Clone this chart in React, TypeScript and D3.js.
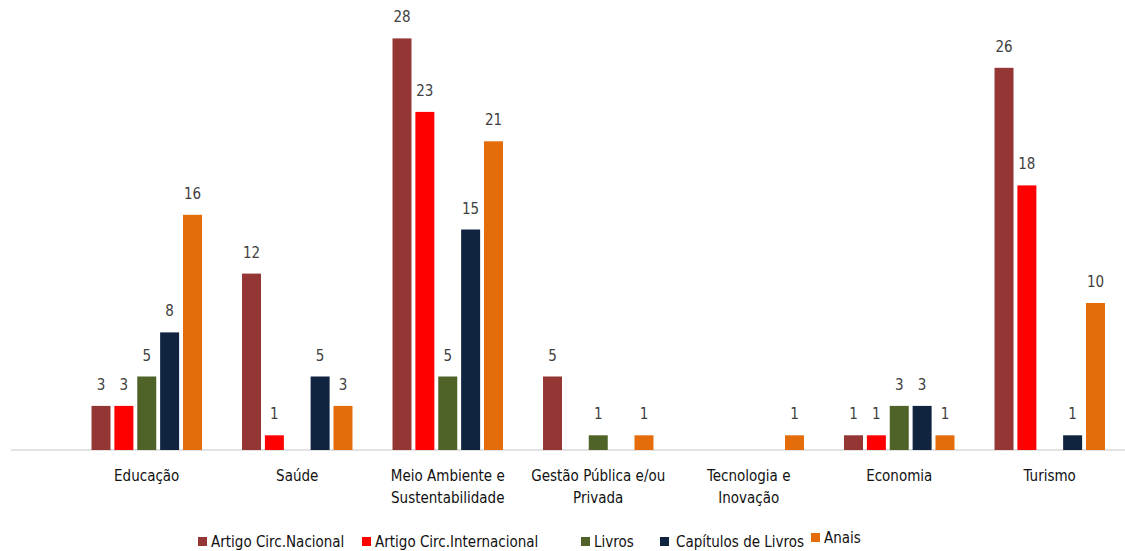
import React from "react";
import * as d3 from "d3";

const categories: string[][] = [
  ["Educação"],
  ["Saúde"],
  ["Meio Ambiente e", "Sustentabilidade"],
  ["Gestão Pública e/ou", "Privada"],
  ["Tecnologia e", "Inovação"],
  ["Economia"],
  ["Turismo"],
];
const seriesNames = ["Artigo Circ.Nacional", "Artigo Circ.Internacional", "Livros", "Capítulos de Livros", "Anais"];
const seriesColors = ["#943634", "#FF0000", "#4F6228", "#10243F", "#E46C0A"];
const nacional = [3, 12, 28, 5, 0, 1, 26];
const internacional = [3, 1, 23, 0, 0, 1, 18];
const livros = [5, 0, 5, 1, 0, 3, 0];
const capitulos = [8, 5, 15, 0, 0, 3, 1];
const anais = [16, 3, 21, 1, 1, 1, 10];
const seriesValues = [nacional, internacional, livros, capitulos, anais];

const W = 1125;
const H = 551;
const FONT = "'Liberation Sans Narrow', 'DejaVu Sans Condensed', 'Arial Narrow', sans-serif";
const legendX = [198, 362, 581, 660, 811];

export default function App() {
  const keys = categories.map((c) => c.join(" "));
  const x0 = d3.scaleBand<string>().domain(keys).range([71.5, 1125]).paddingInner(0.266).paddingOuter(0.133);
  const x1 = d3.scaleBand<string>().domain(seriesNames).range([0, x0.bandwidth()]).paddingInner(0.17).paddingOuter(0);
  const y = d3.scaleLinear().domain([0, 30]).range([450, 9]);

  return (
    <svg width={W} height={H} style={{ position: "absolute", left: 0, top: 0, background: "#fff" }} fontFamily={FONT}>
      <line x1={11} x2={1125} y1={y(0)} y2={y(0)} stroke="#d9d9d9" strokeWidth={1.5} />
      {keys.map((k, ci) => (
        <g key={k} transform={`translate(${x0(k)},0)`}>
          {seriesNames.map((s, si) => {
            const v = seriesValues[si][ci];
            if (!v) return null;
            const bx = x1(s)!;
            return (
              <g key={s}>
                <rect x={bx} y={y(v)} width={x1.bandwidth()} height={y(0) - y(v)} fill={seriesColors[si]} />
                <text x={bx + x1.bandwidth() / 2} y={y(v) - 16} textAnchor="middle" fontSize={15} fill="#404040">
                  {v}
                </text>
              </g>
            );
          })}
          {categories[ci].map((line, li) => (
            <text key={li} x={x0.bandwidth() / 2} y={481 + li * 22} textAnchor="middle" fontSize={15} fill="#111">
              {line}
            </text>
          ))}
        </g>
      ))}
      {seriesNames.map((s, si) => (
        <g key={s} transform={`translate(${legendX[si]},0)`}>
          <rect x={0} y={si === 4 ? 533 : 537} width={9} height={9} fill={seriesColors[si]} />
          <text x={si === 3 ? 16 : 13} y={si === 4 ? 543 : 547} fontSize={15} fill="#111">
            {s}
          </text>
        </g>
      ))}
    </svg>
  );
}
